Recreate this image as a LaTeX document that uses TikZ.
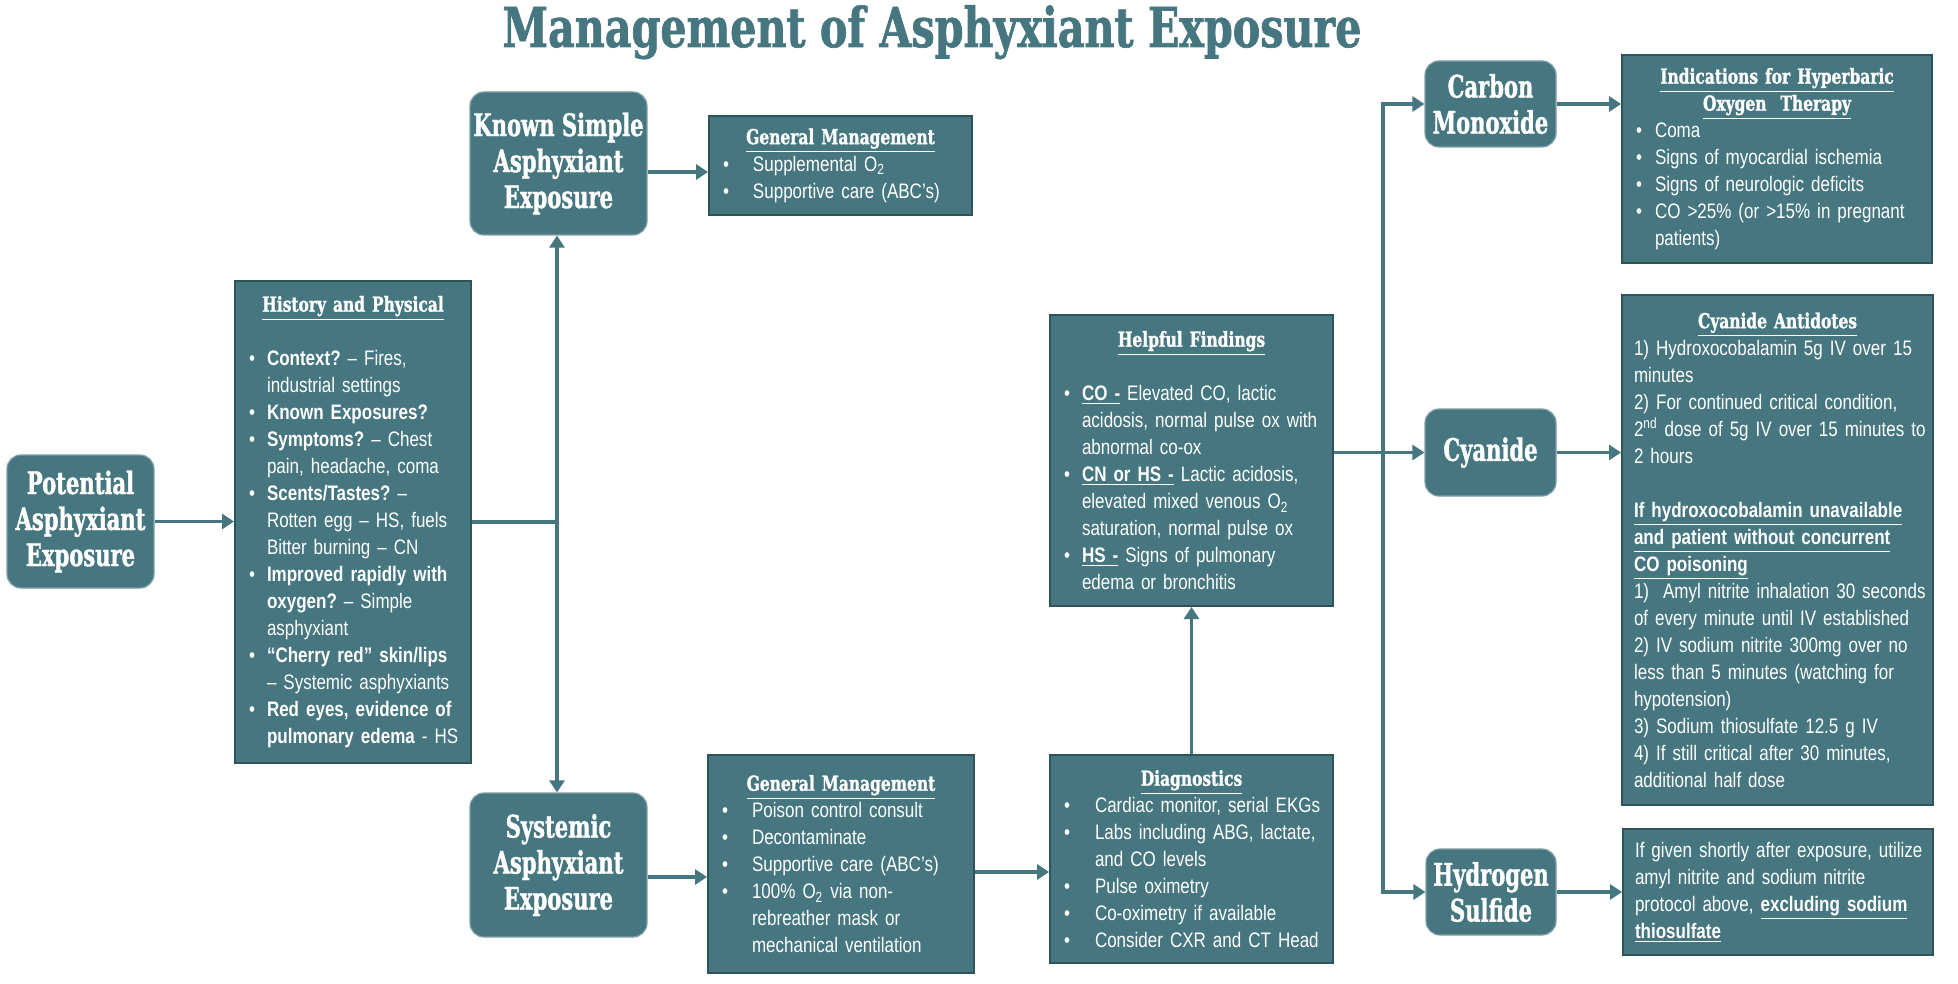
\documentclass[tikz,border=0pt]{standalone}
\usepackage{fontspec}
\setmainfont{Liberation Sans}[FakeStretch=0.81]
\newfontfamily\slab{DejaVu Serif}[FakeStretch=0.75, FakeBold=1.2]
\newfontfamily\slabn{DejaVu Serif}[FakeStretch=0.68, FakeBold=1.2]
\usetikzlibrary{arrows.meta}
\setlength{\parindent}{0pt}
\frenchspacing
\hyphenpenalty=10000
\exhyphenpenalty=10000

\definecolor{boxteal}{HTML}{467680}
\definecolor{edgeteal}{HTML}{2E5459}

% box header and bullet lines
\newcommand{\hdr}[1]{{\centering\slab\bfseries\fontsize{10.3}{13.5}\selectfont\underline{#1}\par}}
\newcommand{\bul}[2][14pt]{\par\noindent\hangindent=#1\hangafter=1\makebox[#1][l]{\hspace*{5pt}\textbullet}#2\par}

\tikzset{
  lbl/.style={rounded corners=7pt, fill=boxteal, draw=boxteal!70!white, line width=0.6pt,
    text=white, align=center, inner sep=0pt, font=\slabn\bfseries\fontsize{15.5}{18}\selectfont},
  infobox/.style={fill=boxteal, draw=edgeteal, line width=1pt, text=white, align=left,
    inner xsep=2pt, inner ysep=0pt, font=\fontsize{10.5}{13.5}\selectfont},
  wire/.style={draw=boxteal, line width=1.7pt},
  link/.style={wire, -{Triangle[length=6pt,width=7.5pt]}},
}

\begin{document}
\begin{tikzpicture}[x=0.5pt, y=-0.5pt]
\useasboundingbox (0,0) rectangle (1958,984);

\node[anchor=base, text=boxteal, font=\slab\bfseries\fontsize{27.5}{30}\selectfont] (title) at (932,47) {Management of Asphyxiant Exposure};

% exposure type
\node[lbl, minimum width=73.5pt, minimum height=66.5pt] (pot) at (80.5,521.5) {Potential\\Asphyxiant\\Exposure};
\node[lbl, minimum width=88.5pt, minimum height=71.5pt] (known) at (558.5,163.5) {Known Simple\\Asphyxiant\\Exposure};
\node[lbl, minimum width=88.5pt, minimum height=72pt] (sys) at (558.5,865) {Systemic\\Asphyxiant\\Exposure};
\node[lbl, minimum width=65.5pt, minimum height=43pt] (co) at (1490.5,104) {Carbon\\Monoxide};
\node[lbl, minimum width=65.5pt, minimum height=43.5pt] (cyan) at (1490.5,452.5) {Cyanide};
\node[lbl, minimum width=65pt, minimum height=43pt] (h2s) at (1491,892) {Hydrogen\\Sulfide};

% info boxes
\node[infobox, text width=114pt, minimum height=241pt] (hist) at (353,522) {
  \hdr{History and Physical}\vspace{13.5pt}
  \bul{\textbf{Context?} – Fires,\newline industrial settings}
  \bul{\textbf{Known Exposures?}}
  \bul{\textbf{Symptoms?} – Chest\newline pain, headache, coma}
  \bul{\textbf{Scents/Tastes?} –\newline Rotten egg – HS, fuels\newline Bitter burning – CN}
  \bul{\textbf{Improved rapidly with\newline oxygen?} – Simple\newline asphyxiant}
  \bul{\textbf{“Cherry red” skin/lips}\newline – Systemic asphyxiants}
  \bul{\textbf{Red eyes, evidence of\newline pulmonary edema} - HS}};
\node[infobox, text width=127.5pt, minimum height=49.5pt] (gmtop) at (840.5,165.5) {
  \hdr{General Management}
  \bul[20pt]{Supplemental O\textsubscript{2}}
  \bul[20pt]{Supportive care (ABC’s)}};
\node[infobox, text width=129pt, minimum height=109pt] (gmbot) at (841,864) {
  \hdr{General Management}
  \bul[20pt]{Poison control consult}
  \bul[20pt]{Decontaminate}
  \bul[20pt]{Supportive care (ABC’s)}
  \bul[20pt]{100\% O\textsubscript{2} via non-\newline rebreather mask or\newline mechanical ventilation}};
\node[infobox, text width=137.5pt, minimum height=104pt] (diag) at (1191.5,859) {
  \hdr{Diagnostics}
  \bul[20.5pt]{Cardiac monitor, serial EKGs}
  \bul[20.5pt]{Labs including ABG, lactate,\newline and CO levels}
  \bul[20.5pt]{Pulse oximetry}
  \bul[20.5pt]{Co-oximetry if available}
  \bul[20.5pt]{Consider CXR and CT Head}};
\node[infobox, text width=137.5pt, minimum height=145.5pt] (help) at (1191.5,460.5) {
  \hdr{Helpful Findings}\vspace{13.5pt}
  \bul{\underline{\textbf{CO -}} Elevated CO, lactic\newline acidosis, normal pulse ox with\newline abnormal co-ox}
  \bul{\underline{\textbf{CN or HS -}} Lactic acidosis,\newline elevated mixed venous O\textsubscript{2}\newline saturation, normal pulse ox}
  \bul{\underline{\textbf{HS -}} Signs of pulmonary\newline edema or bronchitis}};
\node[infobox, text width=151pt, minimum height=104pt] (ind) at (1777,159) {
  \hdr{Indications for Hyperbaric}
  \hdr{Oxygen\ \ Therapy}
  \bul[14.5pt]{Coma}
  \bul[14.5pt]{Signs of myocardial ischemia}
  \bul[14.5pt]{Signs of neurologic deficits}
  \bul[14.5pt]{CO >25\% (or >15\% in pregnant\newline patients)}};
\node[infobox, text width=151.5pt, minimum height=255pt] (anti) at (1777.5,550) {\leftskip=4pt
  \hdr{Cyanide Antidotes}
  1) Hydroxocobalamin 5g IV over 15\newline minutes\par
  2) For continued critical condition,\newline 2\textsuperscript{nd} dose of 5g IV over 15 minutes to\newline 2 hours\par
  \vspace{13.5pt}
  {\bfseries\underline{If hydroxocobalamin unavailable}\newline\underline{and patient without concurrent}\newline\underline{CO poisoning}\par}
  1)\ \ Amyl nitrite inhalation 30 seconds\newline of every minute until IV established\par
  2) IV sodium nitrite 300mg over no\newline less than 5 minutes (watching for\newline hypotension)\par
  3) Sodium thiosulfate 12.5 g IV\par
  4) If still critical after 30 minutes,\newline additional half dose\par};
\node[infobox, text width=151pt, minimum height=63pt] (h2stxt) at (1778,892) {\leftskip=4pt
  If given shortly after exposure, utilize\newline amyl nitrite and sodium nitrite\newline protocol above, \underline{\textbf{excluding sodium}}\newline\underline{\textbf{thiosulfate}}\par};

% connectors
\coordinate (fork) at (557,522);
\coordinate (split) at (1383,452.5);
\draw[link] (pot.east) -- (pot.east -| hist.west);
\draw[wire] (hist.east |- fork) -- (fork);
\draw[link] (fork) -- (fork |- known.south);
\draw[link] (fork) -- (fork |- sys.north);
\draw[link] ([yshift=-4.25pt]known.east) -- ([yshift=-4.25pt]known.east -| gmtop.west);
\draw[link] ([yshift=-6pt]sys.east) -- ([yshift=-6pt]sys.east -| gmbot.west);
\draw[link] ([yshift=-4pt]gmbot.east) -- ([yshift=-4pt]gmbot.east -| diag.west);
\draw[link] (diag) -- (help);
\draw[wire] (help.east |- split) -- (split);
\draw[link] (split) -- (cyan.west);
\draw[link] (split) |- (co.west);
\draw[link] (split) |- (h2s.west);
\draw[link] (co.east) -- (co.east -| ind.west);
\draw[link] (cyan.east) -- (cyan.east -| anti.west);
\draw[link] (h2s.east) -- (h2s.east -| h2stxt.west);
\end{tikzpicture}
\end{document}
